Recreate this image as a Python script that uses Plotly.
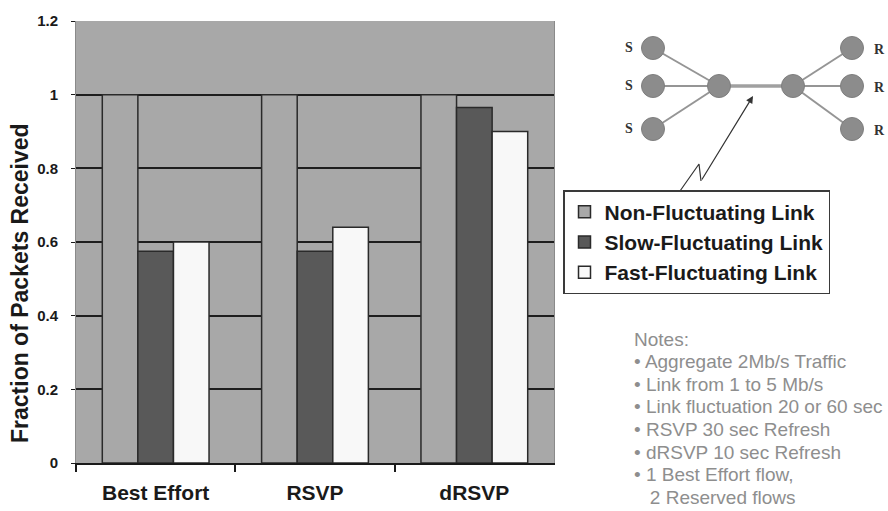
import plotly.graph_objects as go

# ---- chart data ----
categories = ["Best Effort", "RSVP", "dRSVP"]
non_fluctuating = [1.0, 1.0, 1.0]
slow_fluctuating = [0.575, 0.575, 0.965]
fast_fluctuating = [0.60, 0.64, 0.90]
series_names = ["Non-Fluctuating Link", "Slow-Fluctuating Link", "Fast-Fluctuating Link"]
series_colors = ["#a8a8a8", "#595959", "#f8f8f8"]
y_ticks = [0, 0.2, 0.4, 0.6, 0.8, 1.0, 1.2]

# ---- topology sketch (pixel coordinates on an overlay axis) ----
sender_x = 653
sender_y = [48, 86, 129]
router_x = [719, 793]
router_y = 86
receiver_x = 852
receiver_y = [48, 86, 129]
label_sender_x = 629
label_receiver_x = 879
zigzag_x = [680, 699, 701]
zigzag_y = [191, 164, 181]
arrow_tip = (753, 96)

notes = [
    "Notes:",
    "\u2022 Aggregate 2Mb/s Traffic",
    "\u2022 Link from 1 to 5 Mb/s",
    "\u2022 Link fluctuation 20 or 60 sec",
    "\u2022 RSVP 30 sec Refresh",
    "\u2022 dRSVP 10 sec Refresh",
    "\u2022 1 Best Effort flow,",
    "\u00a0\u00a0\u00a02 Reserved flows",
]
notes_top_line = 339
notes_line_step = 22.6

W, H = 888, 511
PLOT_L, PLOT_R, PLOT_T, PLOT_B = 76, 554, 21, 463
FONT = "Arial, 'Liberation Sans', sans-serif"
GRID = "#1e1e1e"

fig = go.Figure()

for name, vals, col in zip(series_names,
                           [non_fluctuating, slow_fluctuating, fast_fluctuating],
                           series_colors):
    fig.add_trace(go.Bar(
        x=categories, y=vals, name=name, legendgroup=name,
        marker=dict(color=col, line=dict(color="#2a2a2a", width=1.5)),
        xaxis="x", yaxis="y",
    ))

# links of the topology
edge_x, edge_y = [], []
for sy in sender_y:
    edge_x += [sender_x, router_x[0], None]
    edge_y += [sy, router_y, None]
for ry in receiver_y:
    edge_x += [router_x[1], receiver_x, None]
    edge_y += [router_y, ry, None]
fig.add_trace(go.Scatter(x=edge_x, y=edge_y, mode="lines",
                         line=dict(color="#959595", width=2),
                         xaxis="x2", yaxis="y2", showlegend=False, hoverinfo="skip"))
fig.add_trace(go.Scatter(x=router_x, y=[router_y, router_y], mode="lines",
                         line=dict(color="#a0a0a0", width=3.5),
                         xaxis="x2", yaxis="y2", showlegend=False, hoverinfo="skip"))
node_x = [sender_x] * 3 + router_x + [receiver_x] * 3
node_y = sender_y + [router_y, router_y] + receiver_y
fig.add_trace(go.Scatter(x=node_x, y=node_y, mode="markers",
                         marker=dict(size=23, color="#8c8c8c",
                                     line=dict(color="#7e7e7e", width=1)),
                         xaxis="x2", yaxis="y2", showlegend=False, hoverinfo="skip"))
fig.add_trace(go.Scatter(x=[label_sender_x] * 3 + [label_receiver_x] * 3,
                         y=sender_y + [y + 2 for y in receiver_y],
                         mode="text", text=["S"] * 3 + ["R"] * 3,
                         textfont=dict(family="'Liberation Serif', serif", size=14,
                                       color="#333333", weight="bold"),
                         xaxis="x2", yaxis="y2", showlegend=False, hoverinfo="skip"))
# lightning-style pointer from the legend to the bottleneck link
fig.add_trace(go.Scatter(x=zigzag_x, y=zigzag_y, mode="lines",
                         line=dict(color="#333333", width=1.2),
                         xaxis="x2", yaxis="y2", showlegend=False, hoverinfo="skip"))

annotations = [
    dict(x=arrow_tip[0], y=arrow_tip[1], ax=zigzag_x[-1], ay=zigzag_y[-1],
         xref="x2", yref="y2", axref="x2", ayref="y2", text="",
         showarrow=True, arrowhead=2, arrowsize=1.2, arrowwidth=1.2,
         arrowcolor="#333333"),
    dict(x=20, y=283, xref="x2", yref="y2",
         text="Fraction of Packets Received", textangle=-90, showarrow=False,
         font=dict(family=FONT, size=23, color="#1a1a1a", weight="bold")),
]
for i, line in enumerate(notes):
    annotations.append(dict(
        x=632, y=notes_top_line + i * notes_line_step, xref="x2", yref="y2",
        xanchor="left", yanchor="middle", showarrow=False, text=line,
        font=dict(family=FONT, size=19, color="#8e8e8e")))

fig.update_layout(
    width=W, height=H,
    margin=dict(l=0, r=0, t=0, b=0, pad=0, autoexpand=False),
    paper_bgcolor="white",
    plot_bgcolor="rgba(0,0,0,0)",
    barmode="group", bargap=0.33, bargroupgap=0.0,
    font=dict(family=FONT, color="#1a1a1a"),
    showlegend=True,
    legend=dict(
        x=563 / W, y=1 - 190 / H, xanchor="left", yanchor="top",
        bgcolor="white", bordercolor="#3a3a3a", borderwidth=1.5,
        font=dict(family=FONT, size=21, color="#1a1a1a", weight="bold"),
        traceorder="normal", tracegroupgap=3, itemclick=False,
    ),
    xaxis=dict(
        domain=[PLOT_L / W, PLOT_R / W], anchor="y", automargin=False,
        showline=True, linecolor="#1a1a1a", linewidth=2,
        ticks="outside", tickson="boundaries", ticklen=7, tickwidth=1.5,
        tickcolor="#1a1a1a", showgrid=False,
        tickfont=dict(family=FONT, size=21, color="#1a1a1a", weight="bold"),
        ticklabelstandoff=10,
    ),
    yaxis=dict(
        domain=[1 - PLOT_B / H, 1 - PLOT_T / H], anchor="x", automargin=False,
        range=[0, 1.2], tickvals=y_ticks, ticktext=[f"{v:g}" for v in y_ticks],
        showgrid=True, gridcolor=GRID, gridwidth=2, zeroline=False,
        showline=True, linecolor="#8a8a8a", linewidth=1, mirror=True,
        ticks="outside", ticklen=4, tickcolor="#1a1a1a",
        tickfont=dict(family=FONT, size=15, color="#1a1a1a", weight="bold"),
        ticklabelstandoff=10,
    ),
    xaxis2=dict(domain=[0, 1], range=[0, W], anchor="y2", automargin=False,
                visible=False, fixedrange=True),
    yaxis2=dict(domain=[0, 1], range=[H, 0], anchor="x2", automargin=False,
                visible=False, fixedrange=True),
    shapes=[dict(type="rect", xref="x domain", yref="y domain",
                 x0=0, x1=1, y0=0, y1=1, fillcolor="#a8a8a8",
                 line=dict(width=0), layer="below")],
    annotations=annotations,
)

fig.write_html("out.html")
